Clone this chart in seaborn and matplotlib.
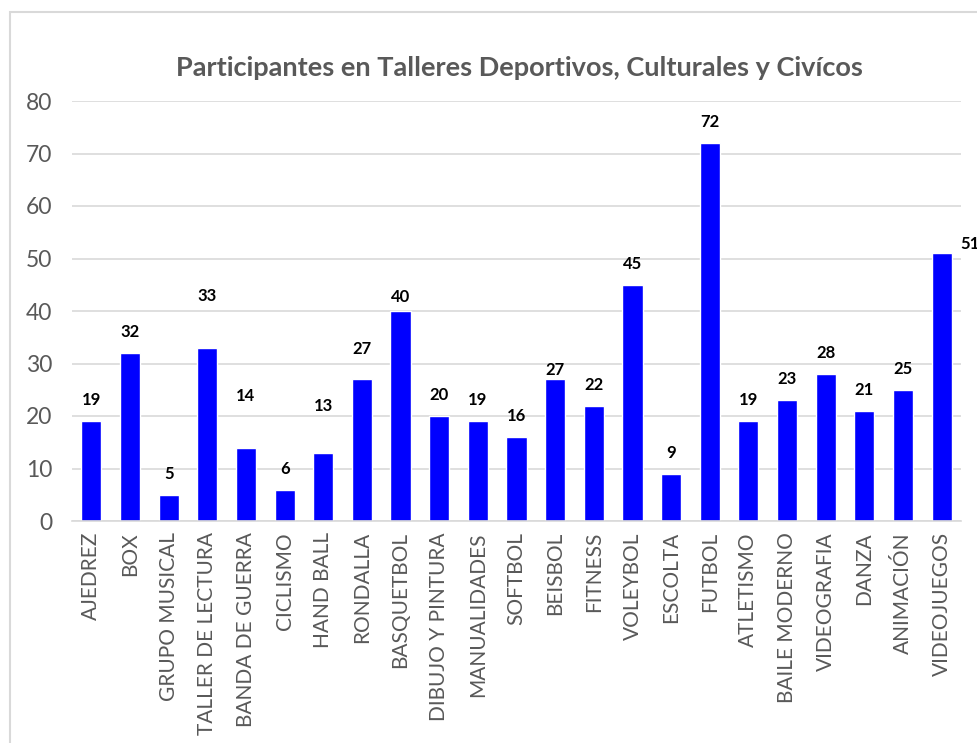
import matplotlib
matplotlib.use('Agg')
import matplotlib.pyplot as plt
from matplotlib.patches import Rectangle
from matplotlib.ticker import FixedLocator
import pandas as pd
import seaborn as sb

talleres = ["AJEDREZ", "BOX", "GRUPO MUSICAL", "TALLER DE LECTURA", "BANDA DE GUERRA",
            "CICLISMO", "HAND BALL", "RONDALLA", "BASQUETBOL", "DIBUJO Y PINTURA",
            "MANUALIDADES", "SOFTBOL", "BEISBOL", "FITNESS", "VOLEYBOL", "ESCOLTA",
            "FUTBOL", "ATLETISMO", "BAILE MODERNO", "VIDEOGRAFIA", "DANZA",
            "ANIMACIÓN", "VIDEOJUEGOS"]
participantes = [19, 32, 5, 33, 14, 6, 13, 27, 40, 20, 19, 16, 27, 22, 45, 9,
                 72, 19, 23, 28, 21, 25, 51]
y_ticks = [0, 10, 20, 30, 40, 50, 60, 70, 80]
titulo = "Participantes en Talleres Deportivos, Culturales y Civícos"

df = pd.DataFrame({"taller": talleres, "n": participantes})

sb.set_style("white")
plt.rcParams["font.family"] = ["Lato", "DejaVu Sans"]

fig = plt.figure(figsize=(9.77, 7.43), dpi=100)
ax = fig.add_axes([72/977, 222/743, 889/977, 420/743])

sb.barplot(data=df, x="taller", y="n", color="#0000FF", saturation=1,
           width=0.52, ax=ax)

# etiquetas de datos (algunas movidas a mano como en el original)
nudges = {3: (0, 22), 4: (0, 22), 6: (0, 19), 7: (0, 7), 8: (0, -5),
          12: (0, -8), 22: (20, -8)}
for i, v in enumerate(participantes):
    dx, dy = nudges.get(i, (0, 0))
    ax.annotate(str(v), (i, v), xytext=(dx, 15 + dy), textcoords="offset points",
                ha="center", va="center", fontsize=12, fontweight="bold",
                color="black", annotation_clip=False)

ax.set_ylim(0, 80)
ax.set_xlim(-0.5, len(talleres) - 0.5)
ax.set_yticks(y_ticks)
ax.yaxis.grid(True, color="#d9d9d9", linewidth=1.2)
ax.set_axisbelow(True)
for s in ["top", "right", "left"]:
    ax.spines[s].set_visible(False)
ax.spines["bottom"].set_color("#d9d9d9")
ax.spines["bottom"].set_linewidth(1.2)

ax.tick_params(axis="y", length=0, labelsize=16.5, labelcolor="#595959", pad=14)
ax.tick_params(axis="x", which="major", length=0, labelsize=15,
               labelcolor="#595959", pad=8)
ax.xaxis.set_minor_locator(FixedLocator([i - 0.5 for i in range(len(talleres) + 1)]))
ax.tick_params(axis="x", which="minor", length=5, color="#d9d9d9", width=1.2)
plt.setp(ax.get_xticklabels(), rotation=90)
ax.set_xlabel("")
ax.set_ylabel("")

fig.text(519/977, 1 - 68/743, titulo, ha="center", va="center",
         fontsize=19.5, fontweight="bold", color="#595959")

# marco del grafico
fig.patches.append(Rectangle((10/977, -0.1), 1.1, 1 - 12/743 + 0.1,
                             transform=fig.transFigure, fill=False,
                             edgecolor="#d9d9d9", linewidth=1.5))

fig.savefig("out.png", dpi=100)
